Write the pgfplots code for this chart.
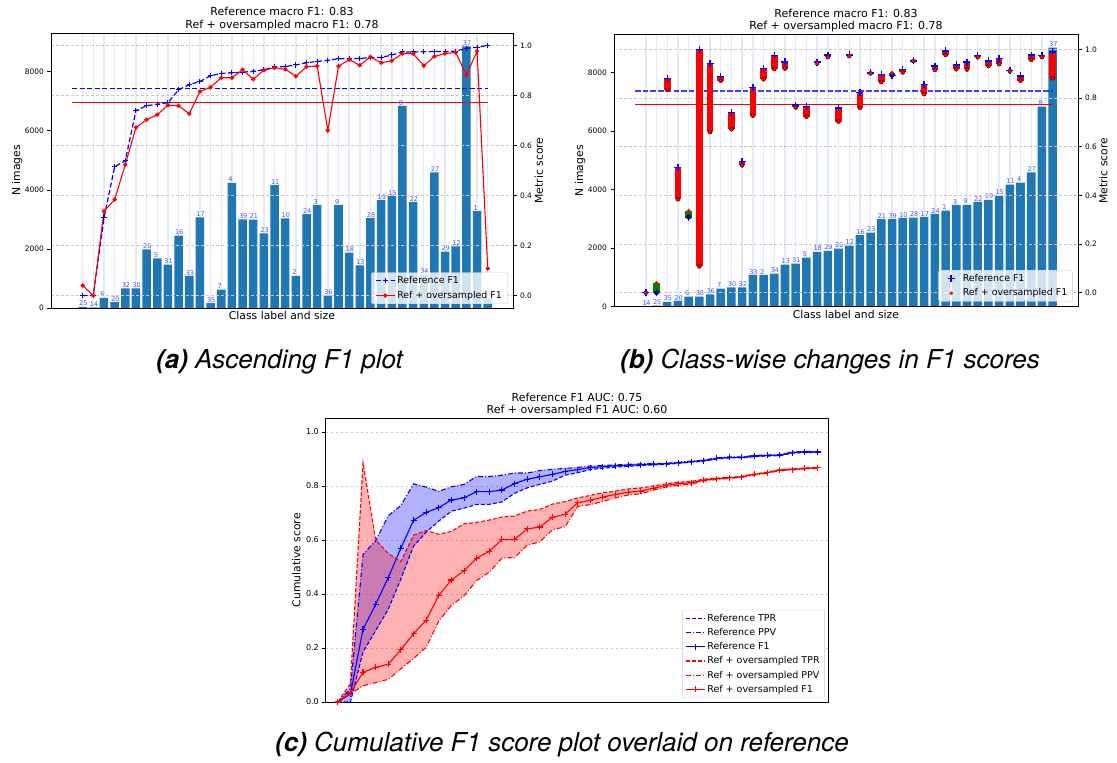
\documentclass[border=0pt]{standalone}
\usepackage{pgfplots}
\pgfplotsset{compat=1.18}
\usepackage{pgfplotstable}
\usepackage{fontspec}
\setmainfont{DejaVu Sans}
\newfontfamily\capfont{TeX Gyre Heros}

\definecolor{cbar}{RGB}{31,119,180}
\definecolor{lblue}{RGB}{77,77,255}
\definecolor{vgrid}{RGB}{226,235,245}
\definecolor{hgrid}{RGB}{200,200,200}
\definecolor{legframe}{RGB}{204,204,204}
\definecolor{mygreen}{RGB}{0,128,0}

% (a) classes ordered by reference F1
\pgfplotstableread{
pos cls size ref over
0 25 40 0.000 0.040
1 14 20 0.000 0.000
2 6 342 0.310 0.337
3 20 195 0.515 0.384
4 32 664 0.539 0.523
5 30 662 0.740 0.672
6 26 1983 0.759 0.703
7 5 1678 0.765 0.723
8 31 1472 0.771 0.761
9 16 2448 0.823 0.759
10 33 1085 0.843 0.727
11 17 3070 0.856 0.816
12 35 165 0.879 0.833
13 7 620 0.888 0.871
14 4 4240 0.891 0.871
15 39 2998 0.893 0.903
16 21 2995 0.897 0.865
17 23 2530 0.903 0.901
18 11 4170 0.914 0.911
19 10 3035 0.916 0.905
20 2 1090 0.922 0.877
21 24 3175 0.931 0.915
22 3 3480 0.936 0.918
23 36 418 0.941 0.660
24 9 3485 0.947 0.917
25 18 1875 0.947 0.943
26 13 1440 0.948 0.921
27 28 3042 0.952 0.954
28 19 3655 0.952 0.931
29 15 3790 0.962 0.939
30 8 6840 0.974 0.968
31 22 3585 0.974 0.967
32 34 1128 0.975 0.919
33 27 4590 0.976 0.956
34 29 1910 0.976 0.968
35 12 2090 0.977 0.972
36 37 8855 0.989 0.881
37 1 3285 0.993 0.977
38 38 344 1.000 0.108
}\tbla

% (b) classes ordered by size
\pgfplotstableread{
pos cls size ref over
0 14 20 0.000 0.000
1 25 40 0.000 0.040
2 35 165 0.879 0.833
3 20 195 0.515 0.384
4 6 342 0.310 0.337
5 38 344 1.000 0.108
6 36 418 0.941 0.660
7 7 620 0.888 0.871
8 30 662 0.740 0.672
9 32 664 0.539 0.523
10 33 1085 0.843 0.727
11 2 1090 0.922 0.877
12 34 1128 0.975 0.919
13 13 1440 0.948 0.921
14 31 1472 0.771 0.761
15 5 1678 0.765 0.723
16 18 1875 0.947 0.943
17 29 1910 0.976 0.968
18 26 1983 0.759 0.703
19 12 2090 0.977 0.972
20 16 2448 0.823 0.759
21 23 2530 0.903 0.901
22 21 2995 0.897 0.865
23 39 2998 0.893 0.903
24 10 3035 0.916 0.905
25 28 3042 0.952 0.954
26 17 3070 0.856 0.816
27 24 3175 0.931 0.915
28 1 3285 0.993 0.977
29 3 3480 0.936 0.918
30 9 3485 0.947 0.917
31 22 3585 0.974 0.967
32 19 3655 0.952 0.931
33 15 3790 0.962 0.939
34 11 4170 0.914 0.911
35 4 4240 0.891 0.871
36 27 4590 0.976 0.956
37 8 6840 0.974 0.968
38 37 8855 0.989 0.881
}\tblb

% (b) classes whose F1 increased
\pgfplotstableread{
pos ref over
1 0.000 0.040
4 0.310 0.337
23 0.893 0.903
25 0.952 0.954
}\tblg

% (c) cumulative scores
\pgfplotstableread{
i rt rp rf ot op of
0 0.000 0.000 0.000 0.000 0.000 0.000
1 0.000 0.050 0.030 0.068 0.030 0.034
2 0.186 0.547 0.269 0.886 0.060 0.110
3 0.264 0.597 0.362 0.600 0.072 0.128
4 0.344 0.690 0.461 0.550 0.084 0.140
5 0.456 0.728 0.570 0.520 0.123 0.194
6 0.577 0.808 0.673 0.618 0.161 0.253
7 0.629 0.796 0.702 0.635 0.203 0.303
8 0.670 0.780 0.720 0.621 0.300 0.395
9 0.707 0.797 0.748 0.632 0.358 0.452
10 0.718 0.806 0.756 0.660 0.393 0.486
11 0.732 0.835 0.779 0.665 0.450 0.533
12 0.732 0.835 0.779 0.674 0.481 0.558
13 0.741 0.840 0.785 0.685 0.533 0.602
14 0.773 0.848 0.809 0.689 0.535 0.602
15 0.793 0.848 0.825 0.707 0.581 0.641
16 0.806 0.857 0.834 0.713 0.593 0.648
17 0.818 0.862 0.843 0.733 0.638 0.684
18 0.840 0.865 0.854 0.742 0.649 0.695
19 0.849 0.869 0.861 0.756 0.724 0.738
20 0.861 0.874 0.868 0.765 0.731 0.747
21 0.866 0.876 0.872 0.775 0.743 0.759
22 0.870 0.878 0.875 0.781 0.756 0.769
23 0.873 0.880 0.877 0.789 0.767 0.777
24 0.876 0.882 0.879 0.793 0.771 0.781
25 0.878 0.884 0.881 0.800 0.785 0.792
26 0.880 0.884 0.882 0.808 0.796 0.802
27 0.884 0.888 0.886 0.814 0.803 0.809
28 0.888 0.892 0.890 0.817 0.807 0.812
29 0.892 0.896 0.894 0.825 0.818 0.822
30 0.900 0.904 0.902 0.829 0.824 0.827
31 0.904 0.908 0.906 0.832 0.828 0.830
32 0.904 0.908 0.906 0.836 0.832 0.834
33 0.909 0.913 0.911 0.845 0.841 0.843
34 0.911 0.915 0.913 0.851 0.847 0.849
35 0.912 0.916 0.914 0.861 0.857 0.859
36 0.922 0.926 0.924 0.863 0.859 0.861
37 0.924 0.928 0.926 0.867 0.863 0.865
38 0.924 0.928 0.926 0.869 0.865 0.867
}\tblc

% (c) band outlines: TPR forward, then PPV backward
\pgfplotstableread{
x y
0 0.000
1 0.000
2 0.186
3 0.264
4 0.344
5 0.456
6 0.577
7 0.629
8 0.670
9 0.707
10 0.718
11 0.732
12 0.732
13 0.741
14 0.773
15 0.793
16 0.806
17 0.818
18 0.840
19 0.849
20 0.861
21 0.866
22 0.870
23 0.873
24 0.876
25 0.878
26 0.880
27 0.884
28 0.888
29 0.892
30 0.900
31 0.904
32 0.904
33 0.909
34 0.911
35 0.912
36 0.922
37 0.924
38 0.924
38 0.928
37 0.928
36 0.926
35 0.916
34 0.915
33 0.913
32 0.908
31 0.908
30 0.904
29 0.896
28 0.892
27 0.888
26 0.884
25 0.884
24 0.882
23 0.880
22 0.878
21 0.876
20 0.874
19 0.869
18 0.865
17 0.862
16 0.857
15 0.848
14 0.848
13 0.840
12 0.835
11 0.835
10 0.806
9 0.797
8 0.780
7 0.796
6 0.808
5 0.728
4 0.690
3 0.597
2 0.547
1 0.050
0 0.000
}\bandref

\pgfplotstableread{
x y
0 0.000
1 0.068
2 0.886
3 0.600
4 0.550
5 0.520
6 0.618
7 0.635
8 0.621
9 0.632
10 0.660
11 0.665
12 0.674
13 0.685
14 0.689
15 0.707
16 0.713
17 0.733
18 0.742
19 0.756
20 0.765
21 0.775
22 0.781
23 0.789
24 0.793
25 0.800
26 0.808
27 0.814
28 0.817
29 0.825
30 0.829
31 0.832
32 0.836
33 0.845
34 0.851
35 0.861
36 0.863
37 0.867
38 0.869
38 0.865
37 0.863
36 0.859
35 0.857
34 0.847
33 0.841
32 0.832
31 0.828
30 0.824
29 0.818
28 0.807
27 0.803
26 0.796
25 0.785
24 0.771
23 0.767
22 0.756
21 0.743
20 0.731
19 0.724
18 0.649
17 0.638
16 0.593
15 0.581
14 0.535
13 0.533
12 0.481
11 0.450
10 0.393
9 0.358
8 0.300
7 0.203
6 0.161
5 0.123
4 0.084
3 0.072
2 0.060
1 0.030
0 0.000
}\bandover

\pgfplotsset{
  mybase/.style={
    scale only axis, anchor=south west,
    tick align=outside, major tick length=3.5pt,
    every tick/.style={black, line width=0.6pt},
    axis line style={black, line width=0.8pt},
    tick label style={font=\fontsize{7.5}{9}\selectfont, text=black},
    /pgf/number format/assume math mode=true,
    label style={font=\fontsize{10.8}{13}\selectfont, inner sep=0pt},
    scaled ticks=false,
    legend cell align=left,
  },
  lineleg/.style={legend image code/.code={\draw[mark repeat=2,mark phase=2] plot coordinates {(0pt,0pt) (9.4pt,0pt) (18.8pt,0pt)};}},
  legbox/.style={legend style={draw=legframe, fill=white, fill opacity=0.8, text opacity=1, rounded corners=2pt, font=\fontsize{9.4}{11}\selectfont, inner xsep=3pt, inner ysep=2pt, row sep=2pt}},
  legboxsolid/.style={legend style={draw=legframe, fill=white, rounded corners=2pt, font=\fontsize{9.5}{11}\selectfont, inner xsep=3pt, inner ysep=2pt, row sep=1.5pt}},
  leftcount/.style={
    xmin=-2.97, xmax=40.37, ymin=0,
    xtick={0,...,38}, xticklabel=\empty, x tick style={draw=none},
    xmajorgrids, major x grid style={vgrid, line width=1.4pt},
    ytick={0,2000,4000,6000,8000}, ytick pos=left,
    yticklabel style={/pgf/number format/1000 sep={}},
    ylabel={N images}, xlabel={Class label and size},
  },
  rightscore/.style={
    xmin=-2.97, xmax=40.37,
    xtick=\empty, ytick={0,0.2,0.4,0.6,0.8,1}, ytick pos=right,
    yticklabel style={/pgf/number format/.cd, fixed, fixed zerofill, precision=1},
    ymajorgrids, major y grid style={hgrid, dash pattern=on 2.5pt off 2.5pt, line width=0.6pt},
    ylabel={Metric score},
  },
  barlabels/.style={
    nodes near coords=\pgfplotspointmeta, point meta=explicit symbolic,
    nodes near coords style={font=\fontsize{6.5}{7}\selectfont, text=lblue, anchor=south west, inner sep=0.6pt, xshift=-4.3pt},
  },
}

\begin{document}
\begin{tikzpicture}
\path (0pt,0pt) rectangle (1117pt,763pt);

% ---------------- (a) ----------------
\begin{axis}[mybase, leftcount, at={(51pt,455pt)}, width=462pt, height=275pt, ymax=9310,
  ylabel style={at={(axis description cs:-0.085,0.5)}, anchor=north},
  xlabel style={at={(axis description cs:0.5,-0.012)}, anchor=north}]
\addplot[ybar, bar width=0.8, fill=cbar, draw=none, barlabels] table[x=pos, y=size, meta=cls] {\tbla};
\end{axis}
\begin{axis}[mybase, rightscore, lineleg, legbox, at={(51pt,455pt)}, width=462pt, height=275pt, ymin=-0.05, ymax=1.05,
  ylabel style={at={(axis description cs:1.0465,0.5)}, anchor=north},
  legend style={at={(1,0)}, anchor=south east, xshift=-5pt, yshift=4pt, inner xsep=4pt}]
\addplot[blue, line width=1.2pt, dash pattern=on 5pt off 2.5pt, forget plot] coordinates {(-1,0.829) (38,0.829)};
\addplot[red, line width=1.2pt, forget plot] coordinates {(-1,0.773) (38,0.773)};
\addplot[blue, line width=1.2pt, dash pattern=on 5pt off 2.5pt, mark=+, mark size=2.6pt, mark options={solid, line width=1pt}] table[x=pos, y=ref] {\tbla};
\addlegendentry{Reference F1}
\addplot[red, line width=1.1pt, mark=*, mark size=1.6pt] table[x=pos, y=over] {\tbla};
\addlegendentry{Ref + oversampled F1}
\end{axis}

% ---------------- (b) ----------------
\begin{axis}[mybase, leftcount, at={(614pt,456.3pt)}, width=464pt, height=272pt, ymax=9300,
  ylabel style={at={(axis description cs:-0.0847,0.5)}, anchor=north},
  xlabel style={at={(axis description cs:0.5,-0.012)}, anchor=north}]
\addplot[ybar, bar width=0.8, fill=cbar, draw=none, barlabels] table[x=pos, y=size, meta=cls] {\tblb};
\end{axis}
\begin{axis}[mybase, rightscore, legbox, at={(614pt,456.3pt)}, width=464pt, height=272pt, ymin=-0.0575, ymax=1.06,
  ylabel style={at={(axis description cs:1.0453,0.5)}, anchor=north},
  legend image code/.code={\path (0pt,0pt) (18.8pt,0pt); \draw[mark repeat=2,mark phase=2] plot coordinates {(0pt,0pt) (9.4pt,0pt) (18.8pt,0pt)};},
  legend style={at={(1,0)}, anchor=south east, xshift=-5.5pt, yshift=5pt}]
\addplot[blue, opacity=0.75, line width=2pt, dash pattern=on 5.5pt off 2.2pt, forget plot] coordinates {(-1,0.829) (38,0.829)};
\addplot[red, line width=1.3pt, forget plot] coordinates {(-1,0.773) (38,0.773)};
\addplot[only marks, mark=none, forget plot,
  error bars/y dir=plus, error bars/y explicit, error bars/error mark=none,
  error bars/error bar style={draw=red, solid, line width=6.6pt}]
  table[x=pos, y expr={min(\thisrow{ref},\thisrow{over})}, y error expr={abs(\thisrow{over}-\thisrow{ref})}] {\tblb};
\addplot[only marks, mark=none, forget plot,
  error bars/y dir=plus, error bars/y explicit, error bars/error mark=none,
  error bars/error bar style={draw=mygreen, solid, line width=6.6pt}]
  table[x=pos, y=ref, y error expr={\thisrow{over}-\thisrow{ref}}] {\tblg};
\addplot[only marks, blue, mark=+, mark size=3.5pt, mark options={line width=1.4pt}] table[x=pos, y=ref] {\tblb};
\addlegendentry{Reference F1}
\addplot[only marks, red, mark=*, mark size=1.7pt] table[x=pos, y=over] {\tblb};
\addlegendentry{Ref + oversampled F1}
\end{axis}

% ---------------- (c) ----------------
\begin{axis}[mybase, lineleg, legboxsolid, at={(325.8pt,61pt)}, width=502.5pt, height=283.5pt,
  xmin=-0.95, xmax=38.85, ymin=0, ymax=1.05,
  xtick=\empty, ytick={0,0.2,0.4,0.6,0.8,1}, ytick pos=left,
  tick label style={font=\fontsize{8}{9}\selectfont},
  yticklabel style={/pgf/number format/.cd, fixed, fixed zerofill, precision=1},
  ymajorgrids, major y grid style={hgrid, dash pattern=on 2.5pt off 2.5pt, line width=0.6pt},
  ylabel={Cumulative score},
  ylabel style={at={(axis description cs:-0.0673,0.5)}, anchor=north},
  legend style={at={(1,0)}, anchor=south east, xshift=-3.5pt, yshift=4pt}]
% shaded bands between TPR and PPV
\addplot[fill=blue, fill opacity=0.3, draw=none, forget plot] table[x=x, y=y] {\bandref};
\addplot[fill=red, fill opacity=0.3, draw=none, forget plot] table[x=x, y=y] {\bandover};
% curves
\addplot[color=blue, line width=1.1pt, dash pattern=on 4pt off 2pt] table[x=i, y=rt] {\tblc};
\addlegendentry{Reference TPR}
\addplot[color=blue, line width=1.1pt, dash pattern=on 5pt off 2pt on 1pt off 2pt] table[x=i, y=rp] {\tblc};
\addlegendentry{Reference PPV}
\addplot[color=blue, line width=1.1pt, mark=+, mark size=3pt] table[x=i, y=rf] {\tblc};
\addlegendentry{Reference F1}
\addplot[color=red, line width=1.1pt, dash pattern=on 4pt off 2pt] table[x=i, y=ot] {\tblc};
\addlegendentry{Ref + oversampled TPR}
\addplot[color=red, line width=1.1pt, dash pattern=on 5pt off 2pt on 1pt off 2pt] table[x=i, y=op] {\tblc};
\addlegendentry{Ref + oversampled PPV}
\addplot[color=red, line width=1.1pt, mark=+, mark size=3pt] table[x=i, y=of] {\tblc};
\addlegendentry{Ref + oversampled F1}
\end{axis}

% ---------------- titles ----------------
\begin{scope}[every node/.style={font=\fontsize{11}{13}\selectfont, anchor=base, inner sep=0pt}]
\node at (282pt,747.3pt) {Reference macro F1: 0.83};
\node at (282pt,734.7pt) {Ref + oversampled macro F1: 0.78};
\node at (846pt,745.7pt) {Reference macro F1: 0.83};
\node at (846pt,733pt) {Ref + oversampled macro F1: 0.78};
\node at (577pt,361.3pt) {Reference F1 AUC: 0.75};
\node at (577pt,349pt) {Ref + oversampled F1 AUC: 0.60};
\end{scope}

% ---------------- captions ----------------
\begin{scope}[every node/.style={font=\capfont\fontsize{26}{30}\selectfont\itshape, anchor=base, inner sep=0pt}]
\node at (279.5pt,394.5pt) {{\bfseries(a)} Ascending F1 plot};
\node at (830pt,394.5pt) {{\bfseries(b)} Class-wise changes in F1 scores};
\node at (562pt,11pt) {{\bfseries(c)} Cumulative F1 score plot overlaid on reference};
\end{scope}
\end{tikzpicture}
\end{document}
